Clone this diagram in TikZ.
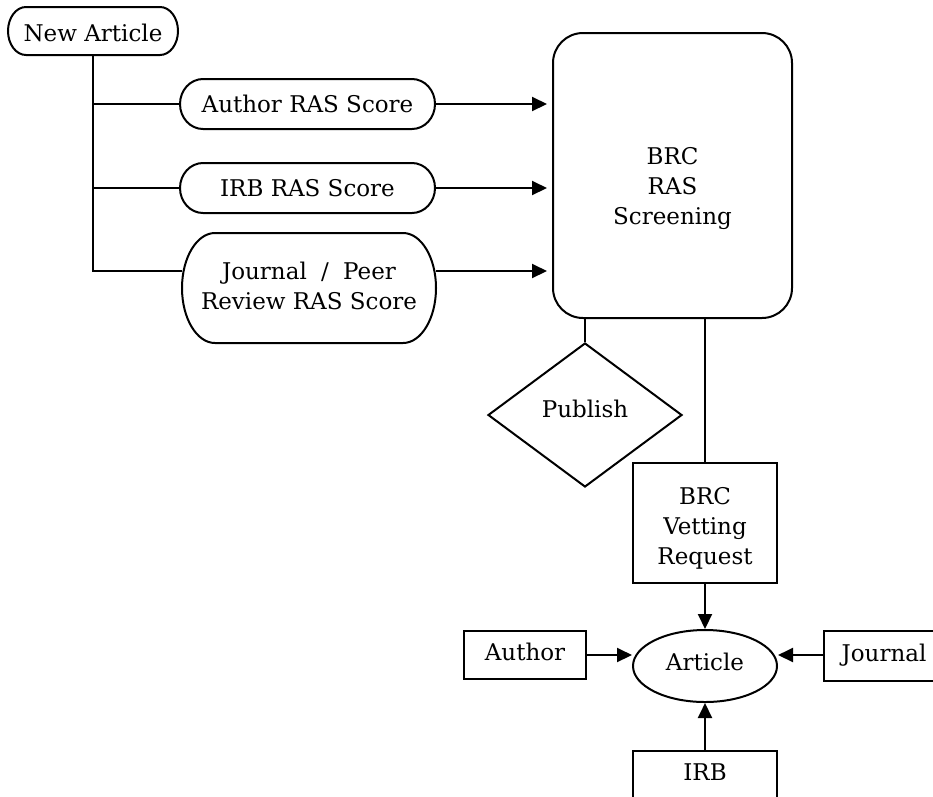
\documentclass[tikz,border=0pt]{standalone}
\usepackage{fontspec}
\setmainfont{DejaVu Serif}
\usetikzlibrary{shapes.geometric,arrows.meta,calc}
% outline of a terminator node #1: straight top/bottom, half-ellipse ends (x radius #2, y radius #3)
\newcommand{\termoutline}[3]{%
  \draw ($(#1.north west)+(#2pt,0pt)$) -- ($(#1.north east)+(-#2pt,0pt)$)
    arc[start angle=90, end angle=-90, x radius=#2pt, y radius=#3pt]
    -- ($(#1.south west)+(#2pt,0pt)$)
    arc[start angle=270, end angle=90, x radius=#2pt, y radius=#3pt]
    -- cycle;}
\begin{document}
\begin{tikzpicture}[x=1pt,y=-1pt,
  every node/.style={font=\fontsize{23}{30}\selectfont},
  line width=2pt,
  term/.style={rectangle, inner sep=0pt, outer sep=0pt},
  box/.style={draw, rectangle, inner sep=0pt, line width=2pt},
  txt/.style={text height=17pt, text depth=6pt},
  arr/.style={-{Triangle[length=15pt,width=14pt]}},
]
\path[use as bounding box, clip] (0,0) rectangle (933,796);
\fill[white] (0,0) rectangle (933,796);

\node[term, minimum width=170pt, minimum height=48pt, text height=21pt, text depth=0pt] (na) at (93,31) {New Article};
\node[term, minimum width=255pt, minimum height=50pt] (auth) at (307.5,104) {Author RAS Score};
\node[term, minimum width=255pt, minimum height=50pt] (irbs) at (307.5,188) {IRB RAS Score};
\node[term, minimum width=254pt, minimum height=110pt,
      label={[align=center, yshift=2.5pt]center:Journal\hspace{7pt} /\hspace{7pt} Peer\\Review RAS Score}] (jp) at (309,288) {};
\termoutline{na}{18}{24}
\termoutline{auth}{23}{25}
\termoutline{irbs}{23}{25}
\termoutline{jp}{33}{55}

\node[box, rounded corners=30pt, minimum width=239pt, minimum height=285pt,
      label={[align=center, yshift=-13.5pt]center:BRC\\RAS\\Screening}] (brc) at (672.5,175.5) {};
\node[draw, diamond, minimum width=194pt, minimum height=144pt, inner sep=0pt, line width=2pt,
      label={[txt, yshift=3.5pt]center:Publish}] (pub) at (585,415) {};
\node[box, minimum width=144pt, minimum height=120pt,
      label={[align=center, yshift=-5pt]center:BRC\\Vetting\\Request}] (vet) at (705,523) {};
\node[draw, ellipse, minimum width=144pt, minimum height=72pt, inner sep=0pt, line width=2pt,
      text height=17pt, text depth=9pt] (art) at (705,666) {Article};
\node[box, txt, minimum width=122pt, minimum height=48pt] (au) at (525,655) {Author};
\node[box, txt, minimum width=120pt, minimum height=50pt] (jo) at (884,656) {Journal};
\node[box, txt, minimum width=144pt, minimum height=48pt] (irb) at (705,775) {IRB};

\coordinate (jpl) at ($(jp.west)+(0,-17)$);
\coordinate (jpr) at ($(jp.east)+(0,-17)$);

\draw (na.south) -- (na.south |- jpl) -- (jpl);
\draw (na.south |- auth.west) -- (auth.west);
\draw (na.south |- irbs.west) -- (irbs.west);
\draw[arr, shorten >=5pt] (auth.east) -- (auth.east -| brc.west);
\draw[arr, shorten >=5pt] (irbs.east) -- (irbs.east -| brc.west);
\draw[arr, shorten >=5pt] (jpr) -- (jpr -| brc.west);
\draw (brc.south -| pub.north) -- (pub.north);
\draw (brc.south -| vet.north) -- (vet.north);
\draw[arr] (vet.south) -- (art.north);
\draw[arr] (au.east) -- (au.east -| art.west);
\draw[arr] (jo.west |- au.east) -- (art.east |- au.east);
\draw[arr] (irb.north) -- (art.south);
\end{tikzpicture}
\end{document}
